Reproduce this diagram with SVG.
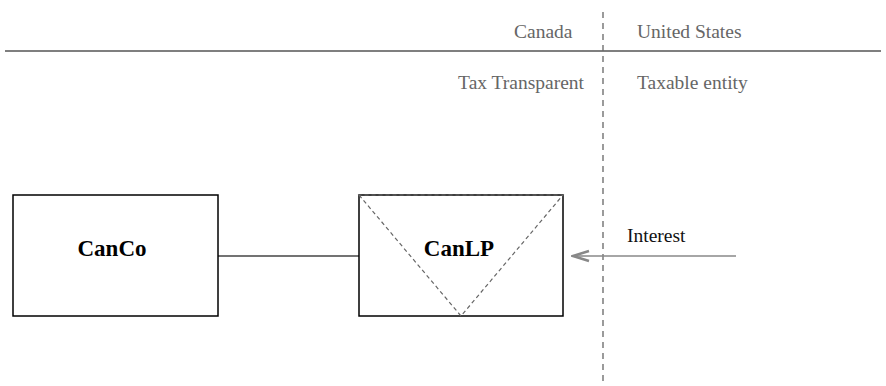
<svg xmlns="http://www.w3.org/2000/svg" width="886" height="386" viewBox="0 0 886 386">
  <style>
    text { font-family: "Liberation Serif", "Times New Roman", "DejaVu Serif", serif; }
    .lbl { font-size: 19.5px; fill: #666; }
    .flow { font-size: 19.5px; fill: #111; }
    .name { font-size: 23px; font-weight: bold; fill: #000; text-anchor: middle; }
    .box { fill: #fff; stroke: #000; stroke-width: 1.5; }
  </style>
  <defs>
    <marker id="chev" viewBox="0 0 20 14" refX="18" refY="7" markerWidth="20" markerHeight="14" markerUnits="userSpaceOnUse" orient="auto">
      <path d="M2,2 L18,7 L2,12" fill="none" stroke="#888" stroke-width="2.5" stroke-linejoin="miter"/>
    </marker>
  </defs>

  <!-- jurisdiction divider and headings -->
  <g id="borders">
    <line x1="5" y1="51" x2="881" y2="51" stroke="#555" stroke-width="1.3"/>
    <line x1="603" y1="12" x2="603" y2="386" stroke="#666" stroke-width="1.3" stroke-dasharray="6,5"/>
    <text class="lbl" x="514" y="38">Canada</text>
    <text class="lbl" x="637" y="38">United States</text>
    <text class="lbl" x="584" y="89" text-anchor="end">Tax Transparent</text>
    <text class="lbl" x="637" y="89">Taxable entity</text>
  </g>

  <g id="connectors">
    <line x1="218" y1="256" x2="359" y2="256" stroke="#444" stroke-width="1.3"/>
    <line x1="736" y1="256" x2="573" y2="256" stroke="#888" stroke-width="1.5" marker-end="url(#chev)"/>
    <text class="flow" x="627" y="242">Interest</text>
  </g>

  <g id="canco">
    <rect class="box" x="13" y="195" width="205" height="121"/>
    <text class="name" x="112" y="256">CanCo</text>
  </g>

  <g id="canlp">
    <rect class="box" x="359" y="195" width="204" height="121"/>
    <path d="M359,195 L461,316 L563,195 Z" fill="none" stroke="#666" stroke-width="1.2" stroke-dasharray="4,3"/>
    <text class="name" x="459" y="256">CanLP</text>
  </g>
</svg>
